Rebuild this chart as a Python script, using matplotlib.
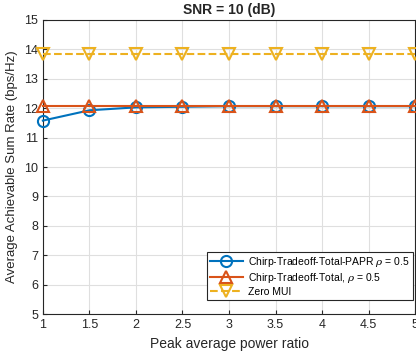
import matplotlib.pyplot as plt

papr = [1, 1.5, 2, 2.5, 3, 3.5, 4, 4.5, 5]
rate_papr = [11.58, 11.93, 12.03, 12.05, 12.07, 12.07, 12.07, 12.07, 12.07]
rate_total = [12.08, 12.08, 12.08, 12.08, 12.08, 12.08, 12.08, 12.08, 12.08]
rate_zero = [13.85, 13.85, 13.85, 13.85, 13.85, 13.85, 13.85, 13.85, 13.85]

plt.rcParams['font.family'] = ['Liberation Sans', 'DejaVu Sans']
plt.rcParams['mathtext.fontset'] = 'dejavuserif'

fig = plt.figure(figsize=(4.16, 3.57), dpi=100)
ax = fig.add_axes([0.103, 0.12, 0.895, 0.824])

ax.plot(papr, rate_papr, '-o', color='#0072BD', lw=1.5, ms=8, mfc='none', mew=1.5,
        label='Chirp-Tradeoff-Total-PAPR $\\rho$ = 0.5', clip_on=False, zorder=3)
ax.plot(papr, rate_total, '-^', color='#D95319', lw=1.5, ms=8, mfc='none', mew=1.5,
        label='Chirp-Tradeoff-Total, $\\rho$ = 0.5', clip_on=False, zorder=3)
ax.plot(papr, rate_zero, '--v', color='#EDB120', lw=1.5, ms=8, mfc='none', mew=1.5,
        label='Zero MUI', clip_on=False, zorder=3)

ax.set_xlim(1, 5)
ax.set_ylim(5, 15)
ax.set_xticks(papr)
ax.set_xticklabels(['1', '1.5', '2', '2.5', '3', '3.5', '4', '4.5', '5'])
ax.set_yticks(range(5, 16))
ax.grid(True, color='#dfdfdf', lw=0.8)
ax.set_axisbelow(True)
ax.tick_params(direction='in', labelsize=9, colors='#262626', length=3)
for s in ax.spines.values():
    s.set_color('#262626')
    s.set_linewidth(0.8)

ax.set_xlabel('Peak average power ratio', fontsize=10, color='#262626')
ax.set_ylabel('Average Achievable Sum Rate (bps/Hz)', fontsize=9.5, color='#262626')
ax.set_title('SNR = 10 (dB)', fontsize=10, fontweight='bold', color='#262626', pad=4)

leg = ax.legend(loc='lower right', fontsize=7.5, fancybox=False, framealpha=1,
                edgecolor='#262626', handlelength=3.2, borderpad=0.3,
                labelspacing=0.2, borderaxespad=0, handletextpad=0.5,
                bbox_to_anchor=(0.995, 0.048))
leg.get_frame().set_linewidth(0.8)

fig.savefig('out.png', dpi=100)
